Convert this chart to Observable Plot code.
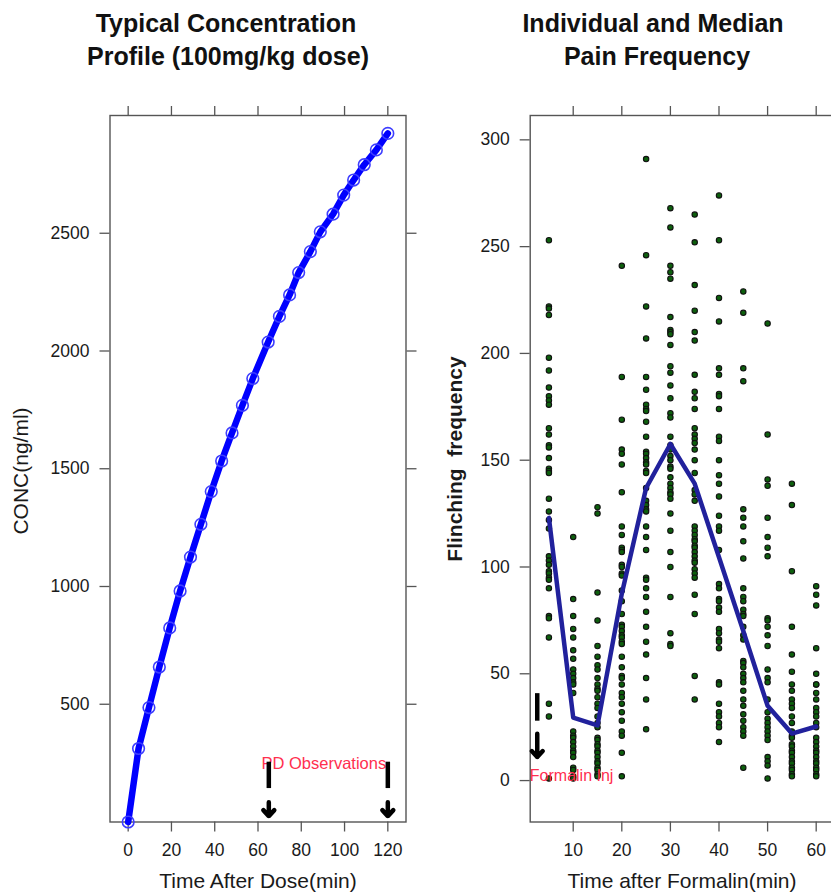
<!DOCTYPE html>
<html>
<head>
<meta charset="utf-8">
<title>Concentration profile and pain frequency</title>
<script src="https://cdn.jsdelivr.net/npm/d3@7"></script>
<script src="https://cdn.jsdelivr.net/npm/@observablehq/plot@0.6"></script>
<style>
  html, body { margin: 0; padding: 0; background: #fff; }
  body {
    width: 831px; height: 893px; overflow: hidden; position: relative;
    font-family: "Liberation Sans", Arial, Helvetica, sans-serif;
  }
  .panel { position: absolute; top: 0; }
  .panel svg { display: block; max-width: none !important; }
  #labels { position: absolute; left: 0; top: 0; pointer-events: none; }
</style>
</head>
<body>
<div id="pk" class="panel" style="left:0;width:430px"></div>
<div id="pd" class="panel" style="left:430px;width:410px"></div>
<script>
// ---- Typical concentration profile, 100 mg/kg dose ----
const pkTime = [0, 4.8, 9.6, 14.4, 19.2, 24.0, 28.8, 33.6, 38.4, 43.2, 48.0, 52.8, 57.6,
                64.7, 69.9, 74.6, 78.8, 84.2, 88.8, 94.7, 99.6, 104.2, 109.1, 114.7, 120.0];
const pkConc = [0, 312, 486, 658, 824, 981, 1125, 1264, 1403, 1533, 1652, 1769, 1883,
                2038, 2147, 2238, 2333, 2422, 2506, 2581, 2662, 2726, 2791, 2854, 2924];
const pkXTicks = [0, 20, 40, 60, 80, 100, 120];
const pkYTicks = [500, 1000, 1500, 2000, 2500];

// PD observation times marked on the PK panel
const pdObsTimes = [65, 120];
const pdObsLabel = "PD Observations";

// ---- Individual flinching counts after formalin injection ----
const pdTimes = [5, 10, 15, 20, 25, 30, 35, 40, 45, 50, 55, 60];
const flinch5  = [253, 222, 221, 218, 198, 192, 184, 180, 178, 176, 165, 162, 157, 156, 151, 146, 145, 144,
                  132, 126, 122, 118, 105, 103, 101, 98, 97, 95, 94, 90, 77, 76, 67, 36, 30, 1];
const flinch10 = [114, 85, 77, 71, 67, 61, 57, 52, 50, 48, 46, 45, 41, 23, 21, 20, 18, 16, 14, 13, 11, 6, 5, 2, 1];
const flinch15 = [128, 125, 88, 75, 63, 58, 54, 52, 48, 45, 43, 42, 39, 36, 34, 30, 27, 25, 20, 19, 17, 16,
                  14, 13, 11, 9, 8, 6, 5, 3, 2];
const flinch20 = [241, 189, 169, 155, 153, 148, 135, 119, 115, 109, 108, 107, 101, 100, 97, 96, 89, 84, 78,
                  73, 72, 70, 68, 67, 65, 64, 58, 53, 49, 48, 45, 41, 39, 36, 32, 28, 23, 21, 13, 2];
const flinch25 = [291, 246, 222, 207, 189, 183, 176, 174, 173, 168, 161, 154, 153, 151, 149, 148, 145, 144,
                  137, 131, 129, 127, 126, 119, 114, 108, 95, 94, 90, 86, 79, 72, 65, 59, 48, 38, 24];
const flinch30 = [268, 259, 241, 238, 235, 217, 211, 210, 209, 204, 194, 191, 185, 179, 172, 170, 161, 157,
                  155, 152, 150, 147, 146, 142, 139, 137, 135, 134, 132, 125, 117, 107, 100, 86, 69, 64, 63];
const flinch35 = [265, 252, 232, 220, 210, 206, 190, 182, 179, 174, 165, 162, 160, 158, 155, 150, 144, 136,
                  134, 131, 119, 117, 115, 113, 112, 110, 109, 107, 105, 103, 102, 99, 97, 95, 87, 78, 49, 38];
const flinch40 = [274, 253, 226, 215, 193, 190, 181, 180, 174, 161, 159, 150, 143, 139, 133, 124, 119, 117,
                  108, 92, 90, 85, 84, 81, 79, 71, 69, 66, 65, 62, 46, 45, 36, 32, 30, 27, 25, 18];
const flinch45 = [229, 219, 193, 187, 127, 123, 119, 112, 104, 90, 86, 84, 80, 78, 77, 72, 68, 66, 56, 55,
                  53, 50, 48, 46, 42, 38, 35, 31, 28, 25, 23, 21, 6];
const flinch50 = [214, 162, 141, 138, 123, 114, 109, 105, 76, 75, 72, 68, 63, 52, 48, 46, 38, 32, 29, 27,
                  25, 23, 21, 19, 11, 9, 7, 1];
const flinch55 = [139, 129, 98, 72, 59, 51, 45, 42, 38, 36, 34, 30, 27, 23, 21, 20, 17, 16, 14, 13, 11, 9,
                  8, 6, 5, 3, 2];
const flinch60 = [91, 87, 82, 62, 50, 45, 45, 41, 38, 34, 32, 30, 27, 25, 20, 18, 16, 14, 13, 11, 9, 8, 6, 5, 3, 2];
const flinchByTime = [flinch5, flinch10, flinch15, flinch20, flinch25, flinch30,
                      flinch35, flinch40, flinch45, flinch50, flinch55, flinch60];
const flinchMedian = [123, 29.5, 25.8, 87.5, 137, 157.6, 139, 104.6, 70, 35, 22, 25.3];
const pdXTicks = [10, 20, 30, 40, 50, 60];
const pdYTicks = [0, 50, 100, 150, 200, 250, 300];

// Formalin injection marker
const injectionTime = 2.6;
const injectionLabel = "Formalin Inj";

// ---- Titles and axis titles ----
const panelTitles = [
  {text: "Typical Concentration", x: 226, y: 31.7},
  {text: "Profile (100mg/kg dose)", x: 228, y: 65},
  {text: "Individual and Median", x: 653, y: 31.7},
  {text: "Pain Frequency", x: 657, y: 65}
];
const xTitles = [
  {text: "Time After Dose(min)", x: 258, y: 888},
  {text: "Time after Formalin(min)", x: 682, y: 888}
];
const yTitles = [
  {text: "CONC(ng/ml)", x: 28, y: 471, bold: false},
  {text: "Flinching  frequency", x: 462, y: 459, bold: true}
];

// ---- Tables built from the arrays ----
const pkRows = pkTime.map((t, i) => ({time: t, conc: pkConc[i]}));
const flinchRows = pdTimes.flatMap((t, i) => flinchByTime[i].map(v => ({time: t, count: v})));
const medianRows = pdTimes.map((t, i) => ({time: t, count: flinchMedian[i]}));
const pdObsRows = pdObsTimes.map(t => ({time: t, top: 254, dashEnd: 142, tip: 25}));
const injRows = [{time: injectionTime, top: 40.7, dashEnd: 27.8, tip: 11}];

const font = `"Liberation Sans", Arial, Helvetica, sans-serif`;
const frameColor = "#555";
const markRed = "#ff2f4f";
const plain = d => String(d);

// Lattice-style box: ticks on all four sides, labels on bottom and left
function boxAxes(xTicks, yTicks) {
  const common = {tickSize: 10, stroke: frameColor, strokeWidth: 1.3, fill: "#1a1a1a",
                  fontSize: 17.5, label: null};
  return [
    Plot.axisX({...common, anchor: "bottom", ticks: xTicks, tickPadding: 11.5, tickFormat: plain}),
    Plot.axisX({...common, anchor: "top", ticks: xTicks, tickFormat: () => ""}),
    Plot.axisY({...common, anchor: "left", ticks: yTicks, tickPadding: 10.5, tickFormat: plain}),
    Plot.axisY({...common, anchor: "right", ticks: yTicks, tickFormat: () => ""}),
    Plot.frame({stroke: frameColor, strokeWidth: 1.4})
  ];
}

// Dashed marker arrow: a short bar, a gap, then an arrowhead
function markerArrow(rows) {
  return [
    Plot.ruleX(rows, {x: "time", y1: "top", y2: "dashEnd", stroke: "#000", strokeWidth: 4.5}),
    Plot.arrow(rows, {x: "time", y1: "top", y2: "tip", insetStart: 40, headLength: 2.7,
                      headAngle: 85, stroke: "#000", strokeWidth: 4.5})
  ];
}

const plotStyle = {fontFamily: font, fontSize: "17.5px", background: "transparent", overflow: "visible"};

const pkPlot = Plot.plot({
  width: 430, height: 893,
  marginLeft: 109.5, marginRight: 24.5, marginTop: 115, marginBottom: 71.5,
  x: {domain: [-8.4, 128.4]},
  y: {domain: [0, 3000]},
  style: plotStyle,
  marks: [
    ...boxAxes(pkXTicks, pkYTicks),
    Plot.line(pkRows, {x: "time", y: "conc", stroke: "#0000ff", strokeWidth: 6.5}),
    Plot.dot(pkRows, {x: "time", y: "conc", r: 5.8, stroke: "#3d3dff", strokeWidth: 1.6}),
    Plot.text([pdObsLabel], {x: 61.6, y: 246, text: d => d, fill: markRed, fontSize: 16.5,
                             textAnchor: "start"}),
    ...markerArrow(pdObsRows)
  ]
});
document.getElementById("pk").append(pkPlot);

const pdPlot = Plot.plot({
  width: 410, height: 893,
  marginLeft: 99.7, marginRight: 5.6, marginTop: 115, marginBottom: 71.5,
  x: {domain: [1.15, 63.85]},
  y: {domain: [-19.4, 311.4]},
  style: plotStyle,
  marks: [
    ...boxAxes(pdXTicks, pdYTicks),
    Plot.dot(flinchRows, {x: "time", y: "count", r: 2.7, fill: "#0d5f0d", stroke: "#111",
                          strokeWidth: 1.1}),
    Plot.line(medianRows, {x: "time", y: "count", stroke: "#21219c", strokeWidth: 4.5}),
    Plot.text([injectionLabel], {x: 1.07, y: 2.3, text: d => d, fill: markRed, fontSize: 16,
                                 textAnchor: "start"}),
    ...markerArrow(injRows)
  ]
});
document.getElementById("pd").append(pdPlot);

// Titles and axis titles drawn on top of both panels
const overlay = d3.select("body").append("svg")
  .attr("id", "labels").attr("width", 831).attr("height", 893)
  .style("font-family", font);

overlay.selectAll("text.title").data(panelTitles).join("text")
  .attr("class", "title")
  .attr("x", d => d.x).attr("y", d => d.y)
  .attr("text-anchor", "middle")
  .attr("font-size", 25).attr("font-weight", "bold").attr("fill", "#111")
  .text(d => d.text);

overlay.selectAll("text.xtitle").data(xTitles).join("text")
  .attr("class", "xtitle")
  .attr("x", d => d.x).attr("y", d => d.y)
  .attr("text-anchor", "middle")
  .attr("font-size", 21).attr("fill", "#1a1a1a")
  .text(d => d.text);

overlay.selectAll("text.ytitle").data(yTitles).join("text")
  .attr("class", "ytitle")
  .attr("transform", d => `translate(${d.x},${d.y}) rotate(-90)`)
  .attr("text-anchor", "middle")
  .attr("font-size", 21)
  .attr("font-weight", d => d.bold ? "bold" : "normal")
  .attr("fill", "#1a1a1a")
  .style("white-space", "pre")
  .text(d => d.text);
</script>
</body>
</html>
